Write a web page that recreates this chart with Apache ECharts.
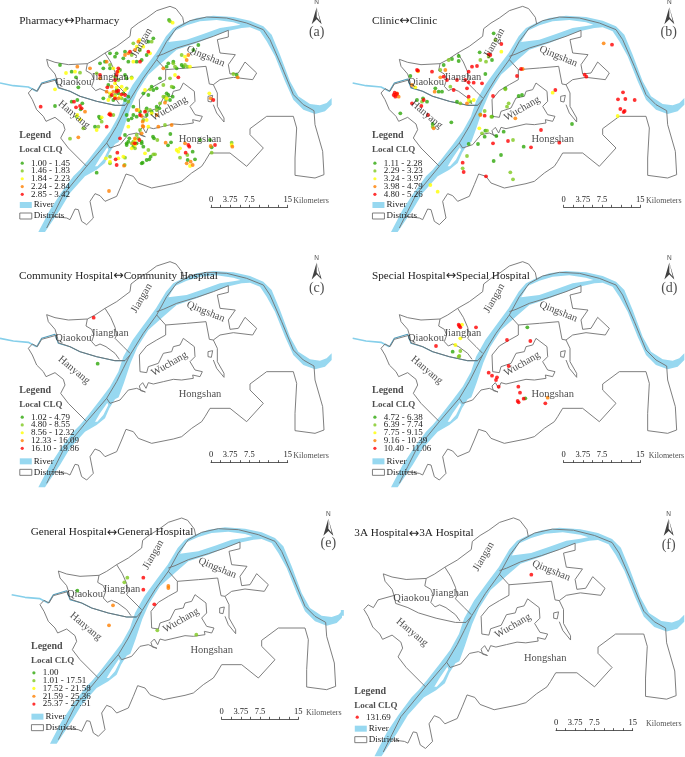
<!DOCTYPE html>
<html><head><meta charset="utf-8"><style>html,body{margin:0;padding:0;background:#fff}#c{width:685px;height:757px}</style>
<script src="https://cdn.jsdelivr.net/npm/echarts@6/dist/echarts.min.js"></script></head>
<body><div id="c"></div>
<script>
// ---------- map outlines, in map units of panel (c) ----------
const riverRing = [[115,742],[150,675],[183,625],[220,575],[240,555],[265,525],[300,480],[330,440],[355,395],[370,350],[398,300],[438,245],[468,205],[498,155],[520,130],[550,115],[590,100],[640,93],[700,97],[750,108],[790,125],[815,150],[840,210],[870,290],[895,335],[930,358],[960,362],[980,355],[995,340],[995,360],[975,380],[945,388],[910,375],[880,345],[855,290],[825,215],[800,170],[780,140],[750,128],[725,130],[722,120],[700,113],[650,106],[600,110],[560,122],[525,138],[505,172],[560,165],[610,148],[660,130],[700,124],[722,120],[725,130],[680,140],[640,155],[590,175],[530,195],[492,228],[445,270],[412,322],[392,368],[372,428],[356,472],[345,478],[322,488],[300,520],[285,545],[292,545],[310,525],[325,495],[322,488],[345,478],[328,505],[315,535],[290,555],[255,575],[210,625],[180,675],[135,742]];
const hanUpper = [[0,295],[40,303],[85,307],[110,320]];
const hanLower = [[110,320],[125,295],[165,283],[175,310],[210,320],[240,335],[290,350],[345,362],[375,362]];
const sideStub = [[1,330],[1,347]];
const districtLines = [
 [[140,730],[165,680],[190,630],[205,612],[260,545],[320,475],[350,425],[370,385],[390,345],[430,280],[470,225],[500,170],[530,130],[570,108],[620,97],[680,100],[740,115],[790,135],[810,165],[845,245],[880,330],[910,360],[942,378]],
 [[470,215],[490,208],[530,190],[590,172],[640,155],[685,137]],
 [[552,118],[548,98],[528,72],[510,65],[470,78],[440,100],[415,115],[393,132],[390,155],[350,185],[315,205],[285,225],[262,237]],
 [[262,237],[205,240],[165,233],[140,224],[145,245],[165,268],[172,290],[175,308],[210,320],[240,335],[290,350],[345,362],[375,362],[390,345]],
 [[262,237],[258,258],[275,268],[282,285],[275,305],[287,318],[300,312],[318,320],[345,340],[358,358]],
 [[315,205],[332,232],[345,262],[350,285],[345,295],[370,320],[390,340]],
 [[172,285],[125,298],[112,320],[97,312],[85,325],[97,345],[110,375],[130,395],[138,410],[165,398],[190,418],[195,435],[182,460],[205,490],[260,545]],
 [[685,137],[685,157],[652,165],[660,205],[706,210],[685,240],[690,268],[715,265],[735,232],[770,265],[758,285],[700,278],[660,285],[640,300],[628,298],[618,245],[560,250],[497,255],[470,225]],
 [[497,255],[497,285],[470,300],[440,318],[418,345],[420,395],[440,398],[445,380],[475,370],[490,340],[515,335],[520,320],[540,315],[550,295],[583,320],[585,350],[570,365],[585,390],[607,395],[600,410],[578,405],[580,415],[545,420],[520,418],[490,425],[460,432],[445,428],[438,445],[428,428],[418,438],[422,452],[436,456],[410,445],[385,450],[360,480],[330,490],[320,475]],
 [[640,300],[652,325],[652,365],[672,400],[672,412],[650,385],[640,360]],
 [[624,335],[638,332],[634,352],[624,350],[624,335]],
 [[160,695],[200,700],[210,705],[225,673],[235,675],[245,710],[260,720],[280,700],[270,650],[285,627],[300,633],[315,650],[350,635],[365,600],[378,568],[400,575],[415,595],[455,610],[520,597],[545,590],[575,565],[605,545],[615,530],[630,505],[690,505],[740,545],[790,490],[750,450],[750,432],[800,395],[880,395],[890,430],[885,520],[885,572],[945,580],[972,570],[968,500],[945,420],[942,378]]
];
const districtNames = ['Jiangan','Jianghan','Qiaokou','Hanyang','Qingshan','Wuchang','Hongshan'];
const districtSpots = [[425,175],[330,279],[220,294],[222,390],[617,215],[508,372],[600,463]];
const districtTilt = [60,0,0,-40,-22,30,0];

// ---------- legend classes ----------
const classesA = ['1.00 - 1.45','1.46 - 1.83','1.84 - 2.23','2.24 - 2.84','2.85 - 3.42'];
const classesB = ['1.11 - 2.28','2.29 - 3.23','3.24 - 3.97','3.98 - 4.79','4.80 - 5.26'];
const classesC = ['1.02 - 4.79','4.80 - 8.55','8.56 - 12.32','12.33 - 16.09','16.10 - 19.86'];
const classesD = ['4.72 - 6.38','6.39 - 7.74','7.75 - 9.15','9.16 - 10.39','10.40 - 11.06'];
const classesE = ['1.00','1.01 - 17.51','17.52 - 21.58','21.59 - 25.36','25.37 - 27.51'];
const classesF = ['131.69'];
const classColors = ['#2ea80a','#7ec81e','#ffff00','#ff7f00','#ff0000'];
const scaleLabels = [0,3.75,7.5,15];

// ---------- co-location points read per panel, one list per class ----------
const pointsA = [
 [[507,60],[445,125],[460,115],[375,155],[350,160],[370,175],[385,185],[330,160],[345,170],[410,185],[425,180],[440,165],[180,195],[215,215],[228,232],[235,262],[300,190],[315,185],[360,210],[375,225],[310,205],[330,205],[380,235],[325,255],[350,270],[370,280],[385,290],[340,300],[375,300],[355,280],[310,295],[165,318],[232,300],[247,310],[215,305],[297,350],[285,380],[300,355],[242,328],[505,190],[520,185],[500,200],[550,200],[580,150],[595,135],[480,235],[455,260],[430,280],[505,285],[520,262],[470,320],[400,320],[380,345],[385,360],[440,345],[600,420],[635,442],[513,427],[504,436],[459,410],[462,415],[511,402],[452,470],[448,478],[440,480],[425,490],[428,488],[578,455],[563,480],[585,478],[290,518],[630,420],[710,225],[380,435],[400,440],[410,430],[385,425],[430,440],[425,425],[375,405],[388,415],[380,430],[425,430],[530,205],[545,195],[470,265],[445,285],[460,270],[500,280],[518,290],[510,300],[478,325],[455,335],[440,325],[410,350],[400,345],[395,355],[420,335]],
 [[510,64],[420,150],[455,125],[400,130],[395,165],[240,218],[290,220],[345,230],[355,240],[395,232],[330,195],[365,295],[345,285],[380,265],[330,290],[385,305],[295,380],[250,385],[305,365],[340,345],[230,350],[210,416],[545,165],[510,235],[490,255],[515,260],[495,290],[450,330],[480,310],[430,360],[495,375],[472,420],[445,450],[460,463],[465,463],[330,470],[375,473],[635,458],[562,465],[540,473],[695,428],[700,222],[405,445],[395,430],[420,390],[415,415],[330,490],[374,495],[410,405],[400,425],[525,200],[555,195],[562,200],[520,190],[450,268],[490,290],[498,300],[470,330],[438,332]],
 [[518,68],[418,120],[430,140],[410,140],[450,160],[400,185],[198,219],[225,215],[165,268],[340,205],[355,215],[395,235],[345,250],[365,260],[345,290],[330,280],[360,290],[350,262],[325,300],[375,270],[232,345],[240,358],[305,352],[290,390],[525,225],[555,170],[570,200],[435,270],[435,460],[530,450],[540,445],[535,455],[405,435],[395,445],[405,420],[628,280],[695,435],[570,498],[318,475],[355,475],[370,470],[330,485],[385,380],[445,380],[500,295],[455,340],[440,360],[415,330]],
 [[375,165],[385,160],[415,125],[405,150],[232,200],[270,205],[320,185],[300,235],[335,260],[320,275],[355,295],[340,275],[255,335],[330,340],[235,412],[490,205],[565,165],[430,380],[515,375],[428,378],[555,430],[497,428],[405,415],[400,430],[428,365],[425,400],[475,380],[572,485],[560,490],[578,495],[697,440],[713,232],[327,573],[372,497],[632,438],[632,295],[560,180],[495,308],[470,345],[425,348],[410,330]],
 [[420,185],[390,155],[445,155],[355,205],[350,225],[300,225],[352,215],[345,240],[322,262],[350,275],[365,283],[355,272],[345,295],[335,285],[375,285],[122,320],[222,305],[240,318],[245,325],[228,322],[332,345],[320,380],[535,232],[565,435],[557,458],[645,435],[360,415],[350,495],[352,458],[347,478],[418,420],[405,430],[568,440],[640,300],[328,343],[435,335],[420,345]]
];
const pointsB = [
 [[455,100],[413,157],[350,168],[330,177],[350,183],[450,180],[305,195],[430,222],[490,265],[540,285],[530,288],[175,340],[328,367],[690,372],[450,350],[430,392],[428,410],[463,408],[485,395],[380,432],[408,432],[545,440],[477,465],[455,483],[272,372],[243,295],[255,305],[225,300],[280,265],[290,275],[300,275],[205,228],[345,305]],
 [[460,120],[440,170],[432,185],[415,180],[320,180],[295,210],[325,260],[355,310],[385,305],[490,268],[495,320],[500,310],[428,333],[415,343],[448,350],[420,400],[435,392],[513,420],[505,517],[362,505],[513,538],[375,468],[272,380],[240,305]],
 [[478,155],[228,214],[220,262],[395,300],[380,300],[632,278],[412,385],[827,348],[265,555],[287,575]],
 [[785,130],[310,210],[295,232],[278,275],[160,285],[165,280],[170,290],[542,207],[520,355],[275,385],[375,310],[415,345],[210,255]],
 [[478,132],[440,163],[445,165],[405,198],[390,200],[810,134],[270,215],[225,210],[228,212],[380,215],[305,230],[315,240],[345,240],[370,240],[380,247],[395,248],[420,250],[375,265],[335,270],[525,228],[537,207],[453,288],[155,285],[160,290],[165,282],[158,278],[210,310],[238,318],[258,345],[245,300],[428,347],[597,390],[640,270],[453,430],[498,423],[567,442],[652,428],[362,488],[365,516],[432,529],[728,224],[733,230],[843,277],[828,298],[850,297],[878,300],[835,327],[848,333],[845,336],[380,290]]
];
const pointsC = [[[293,371]],[],[],[],[[281,233]]];
const pointsD = [
 [[332,335],[556,262],[550,475]],
 [[355,333],[352,348],[350,350]],
 [[360,254],[355,295],[340,315]],
 [[617,473]],
 [[350,254],[355,262],[352,258],[402,262],[282,318],[495,300],[565,303],[500,378],[440,398],[450,407],[465,412],[462,420],[470,440],[529,440],[534,458],[527,483],[530,487],[545,476],[610,490]]
];
const pointsE = [
 [[232,272]],
 [[382,233],[373,247],[472,391],[589,404]],
 [],
 [[339,316],[327,376],[505,258],[505,264]],
 [[430,233],[430,269],[463,313]]
];
const pointsF = [[[568,224]]];

// ---------- panel layout (crop box in px, map transform, text spots in map units of the crop) ----------
const panels = [
 {id:'a',words:['Pharmacy','Pharmacy'],crop:[0,0,342,240],map:[1,0,-46],han:true,cls:classesA,pts:pointsA,hx:58,hy:405,ly:448,rowY:488,rivY:615,arrow:[950,47],letter:[950,97],bar:[633,622,880],ty:62,tx:58},
 {id:'b',words:['Clinic','Clinic'],crop:[342,0,343,240],map:[1,32,-46],han:true,cls:classesB,pts:pointsB,hx:90,hy:405,ly:448,rowY:488,rivY:615,arrow:[982,47],letter:[980,97],bar:[665,622,912],ty:62,tx:90},
 {id:'c',words:['Community Hospital','Community Hospital'],crop:[0,240,342,260],map:[1,0,0],han:true,cls:classesC,pts:pointsC,hx:58,hy:452,ly:495,rowY:530,rivY:664,arrow:[950,93],letter:[950,145],bar:[633,668,880],ty:108,tx:57},
 {id:'d',words:['Special Hospital','Special Hospital'],crop:[342,240,343,260],map:[1,32,0],han:true,cls:classesD,pts:pointsD,hx:90,hy:452,ly:495,rowY:530,rivY:664,arrow:[982,93],letter:[982,145],bar:[665,668,920],ty:108,tx:90},
 {id:'e',words:['General Hospital','General Hospital'],crop:[0,500,342,257],map:[1,35,-11],han:true,cls:classesE,pts:pointsE,hx:93,hy:440,ly:483,rowY:517,rivY:650,arrow:[985,82],letter:[985,130],bar:[665,658,918],ty:97,tx:92},
 {id:'f',words:['3A Hospital','3A Hospital'],crop:[342,500,343,257],map:[1.056,-24,-15],han:false,cls:classesF,pts:pointsF,hx:37,hy:575,ly:618,rowY:650,rivY:686,arrow:[980,82],letter:[980,137],bar:[642,692,912],ty:100,tx:37}
];

const serif = 'Liberation Serif';
const ink = '#222';
const lineGray = '#707070';
const riverBlue = '#97d8f0';
const hanBlue = '#4f9dbc';
const arrowPath = 'path://M5 0L5 17L0 24ZM5 0L10 24L5 17L5 14L8.4 20Z';

const grid=[],xAxis=[],yAxis=[],series=[],title=[],legend=[];

panels.forEach((p,i)=>{
  const [cx,cy,cw,ch]=p.crop, [s,dx,dy]=p.map;
  const place=q=>[q[0]*s+dx,q[1]*s+dy];
  const g=grid.length;
  grid.push({left:cx,top:cy,width:cw,height:ch,containLabel:false});
  xAxis.push({type:'value',gridIndex:g,min:0,max:cw*3,show:false});
  yAxis.push({type:'value',gridIndex:g,min:0,max:ch*3,inverse:true,show:false});
  const base={xAxisIndex:g,yAxisIndex:g,silent:true,animation:false};

  const ring=riverRing.map(place);
  series.push({...base,type:'custom',name:'River',z:1,clip:true,data:ring,
    itemStyle:{color:riverBlue},
    renderItem:(params,api)=>params.dataIndex===0?{type:'polygon',shape:{points:ring.map(q=>api.coord(q))},style:{fill:riverBlue}}:null});
  if(p.han){
    series.push({...base,type:'line',name:'Han River upper',z:2,symbol:'none',data:hanUpper.map(place),lineStyle:{color:'#86cfea',width:1.6}});
    series.push({...base,type:'line',name:'Han River',z:2,symbol:'none',data:hanLower.map(place),lineStyle:{color:hanBlue,width:1.1}});
  } else {
    series.push({...base,type:'line',name:'Han River stub',z:2,symbol:'none',data:sideStub,lineStyle:{color:riverBlue,width:3}});
  }
  const lineData=[];
  districtLines.forEach(l=>{l.forEach(q=>lineData.push(place(q)));lineData.push(['-','-']);});
  series.push({...base,type:'line',name:'Districts',z:3,symbol:'none',connectNulls:false,data:lineData,lineStyle:{color:lineGray,width:0.9},itemStyle:{color:'#fff'}});

  p.cls.forEach((name,k)=>{
    const colorIdx=p.cls.length===1?4:k;
    series.push({...base,type:'scatter',name,z:4,symbol:'circle',symbolSize:3.8,data:p.pts[k],itemStyle:{color:classColors[colorIdx]}});
  });

  series.push({...base,type:'scatter',name:'Map labels',z:6,symbolSize:0,
    data:districtNames.map((n,k)=>({name:n,value:place(districtSpots[k]),label:{rotate:districtTilt[k]}})),
    label:{show:true,position:'inside',formatter:'{b}',fontFamily:serif,fontSize:10.5,color:ink}});
  series.push({...base,type:'scatter',name:'Panel letter',z:6,symbolSize:0,
    data:[{name:'('+p.id+')',value:p.letter}],
    label:{show:true,position:'inside',formatter:'{b}',fontFamily:serif,fontSize:14,color:ink}});
  series.push({...base,type:'scatter',name:'North',z:6,symbol:arrowPath,symbolSize:[10,17],itemStyle:{color:'#111'},
    data:[{name:'N',value:p.arrow}],
    label:{show:true,position:'top',distance:1,formatter:'{b}',fontFamily:'Liberation Sans',fontSize:6.5,color:ink}});
  series.push({...base,type:'scatter',name:'Legend heading',z:6,symbolSize:0,
    data:[{name:'Legend',value:[p.hx,p.hy],label:{fontSize:10}},{name:'Local CLQ',value:[p.hx,p.ly],label:{fontSize:9}}],
    label:{show:true,position:'right',distance:0,formatter:'{b}',fontFamily:serif,fontWeight:'bold',color:ink}});

  title.push({text:'{w|'+p.words[0]+'}{ar|\u2194}{w|'+p.words[1]+'}',left:cx+p.tx/3,top:cy+p.ty/3,textVerticalAlign:'middle',padding:0,
    textStyle:{fontWeight:'normal',rich:{w:{fontFamily:serif,fontSize:11.2,fontWeight:'normal',color:ink},ar:{fontFamily:'DejaVu Sans',fontSize:12.5,fontWeight:'normal',color:ink}}}});

  const lx=cx+p.hx/3;
  legend.push({orient:'vertical',left:lx+1.3,top:cy+p.rowY/3-4,padding:0,itemGap:-1.2,itemWidth:7.5,itemHeight:3.2,selectedMode:false,
    data:p.cls.map(n=>({name:n,icon:'circle'})),
    textStyle:{fontFamily:serif,fontSize:9,lineHeight:8,color:ink}});
  legend.push({orient:'vertical',left:lx,top:cy+p.rivY/3-5.5,padding:0,itemGap:0,itemWidth:12,itemHeight:6,selectedMode:false,
    data:[{name:'River',icon:'rect',itemStyle:{color:riverBlue,borderWidth:0}},
          {name:'Districts',icon:'rect',itemStyle:{color:'#fff',borderColor:lineGray,borderWidth:0.9}}],
    textStyle:{fontFamily:serif,fontSize:9,lineHeight:11,color:ink,padding:[0,0,0,-3]}});

  const b=grid.length;
  grid.push({left:cx+p.bar[0]/3,top:cy+p.bar[1]/3-6,width:230/3,height:6});
  xAxis.push({type:'value',gridIndex:b,min:0,max:15,interval:1.875,position:'bottom',
    axisLine:{show:true,lineStyle:{color:'#333',width:0.8}},
    axisTick:{show:true,inside:true,length:2.5,lineStyle:{color:'#333',width:0.8}},
    splitLine:{show:false},
    axisLabel:{show:true,inside:true,margin:3,hideOverlap:false,fontFamily:serif,fontSize:8.5,color:ink,
      formatter:v=>scaleLabels.includes(v)?String(v):''}});
  yAxis.push({type:'value',gridIndex:b,min:0,max:1,show:false});
  series.push({...base,type:'scatter',name:'Scale text',z:6,symbolSize:0,
    data:[{name:'Kilometers',value:[p.bar[2],p.bar[1]-20]}],
    label:{show:true,position:'right',distance:0,formatter:'{b}',fontFamily:serif,fontSize:8,color:ink}});
});

const chart=echarts.init(document.getElementById('c'),null,{renderer:'canvas'});
chart.setOption({animation:false,backgroundColor:'#fff',tooltip:{show:false},grid,xAxis,yAxis,title,legend,series});
</script></body></html>
